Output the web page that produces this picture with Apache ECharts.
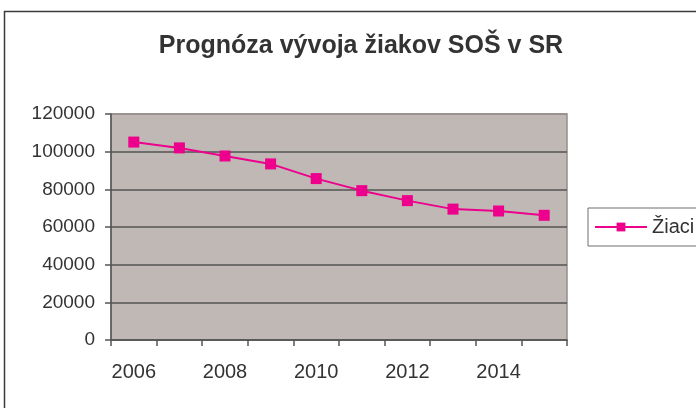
<!DOCTYPE html>
<html>
<head>
<meta charset="utf-8">
<script src="https://cdn.jsdelivr.net/npm/echarts@6/dist/echarts.min.js"></script>
<style>html,body{margin:0;padding:0;background:#fff}#c{width:696px;height:408px}</style>
</head>
<body>
<div id="c"></div>
<script>
const titleText = 'Prognóza vývoja žiakov SOŠ v SR';
const seriesName = 'Žiaci';
const years = ['2006','2007','2008','2009','2010','2011','2012','2013','2014','2015'];
const students = [105100, 102000, 97700, 93500, 85700, 79300, 74000, 69500, 68500, 66200];
const yTicks = [0, 20000, 40000, 60000, 80000, 100000, 120000];

const chart = echarts.init(document.getElementById('c'), null, {renderer: 'canvas'});
const font = 'Liberation Sans, Arial, sans-serif';
chart.setOption({
  animation: false,
  backgroundColor: '#ffffff',
  textStyle: {fontFamily: font},
  graphic: [{
    type: 'rect', silent: true, z: -10,
    shape: {x: 4.5, y: 11.5, width: 800, height: 500},
    style: {fill: 'none', stroke: '#3a3a3a', lineWidth: 1.5}
  }],
  title: {
    text: titleText,
    left: 356, top: 29,
    textAlign: 'center',
    textStyle: {fontFamily: font, fontSize: 25, fontWeight: 'bold', color: '#333333'}
  },
  legend: {
    data: [seriesName],
    left: 588, top: 208,
    orient: 'vertical',
    padding: [9, 60, 9, 6],
    itemWidth: 52, itemHeight: 11, itemGap: 6,
    borderColor: '#6e6e6e', borderWidth: 1,
    textStyle: {fontFamily: font, fontSize: 20, color: '#333333', padding: [0, 0, 0, 0]}
  },
  grid: {
    left: 111, top: 114, right: 129, bottom: 68,
    show: true, backgroundColor: '#c0b8b5', borderColor: '#968e8b', borderWidth: 1.5
  },
  xAxis: {
    type: 'category',
    data: years,
    boundaryGap: true,
    axisLine: {lineStyle: {color: '#555555', width: 1.5}},
    axisTick: {show: true, interval: 0, length: 6, lineStyle: {color: '#555555', width: 1.5}},
    axisLabel: {interval: 1, margin: 22, fontSize: 20, color: '#333333', fontFamily: font},
    splitLine: {show: false}
  },
  yAxis: {
    type: 'value',
    min: yTicks[0], max: yTicks[yTicks.length - 1], interval: yTicks[1] - yTicks[0],
    axisLine: {show: true, lineStyle: {color: '#555555', width: 1.5}},
    axisTick: {show: true, length: 6, lineStyle: {color: '#555555', width: 1.5}},
    axisLabel: {margin: 16, fontSize: 19, color: '#333333', fontFamily: font,
      formatter: function (v) { return String(v); }},
    splitLine: {show: true, lineStyle: {color: ['#555555','#555555','#555555','#555555','#555555','#555555','#968e8b'], width: 1.5}}
  },
  series: [{
    name: seriesName,
    type: 'line',
    data: students,
    symbol: 'rect',
    symbolSize: 11,
    showSymbol: true,
    lineStyle: {color: '#ec008c', width: 2},
    itemStyle: {color: '#ec008c'}
  }]
});
</script>
</body>
</html>
